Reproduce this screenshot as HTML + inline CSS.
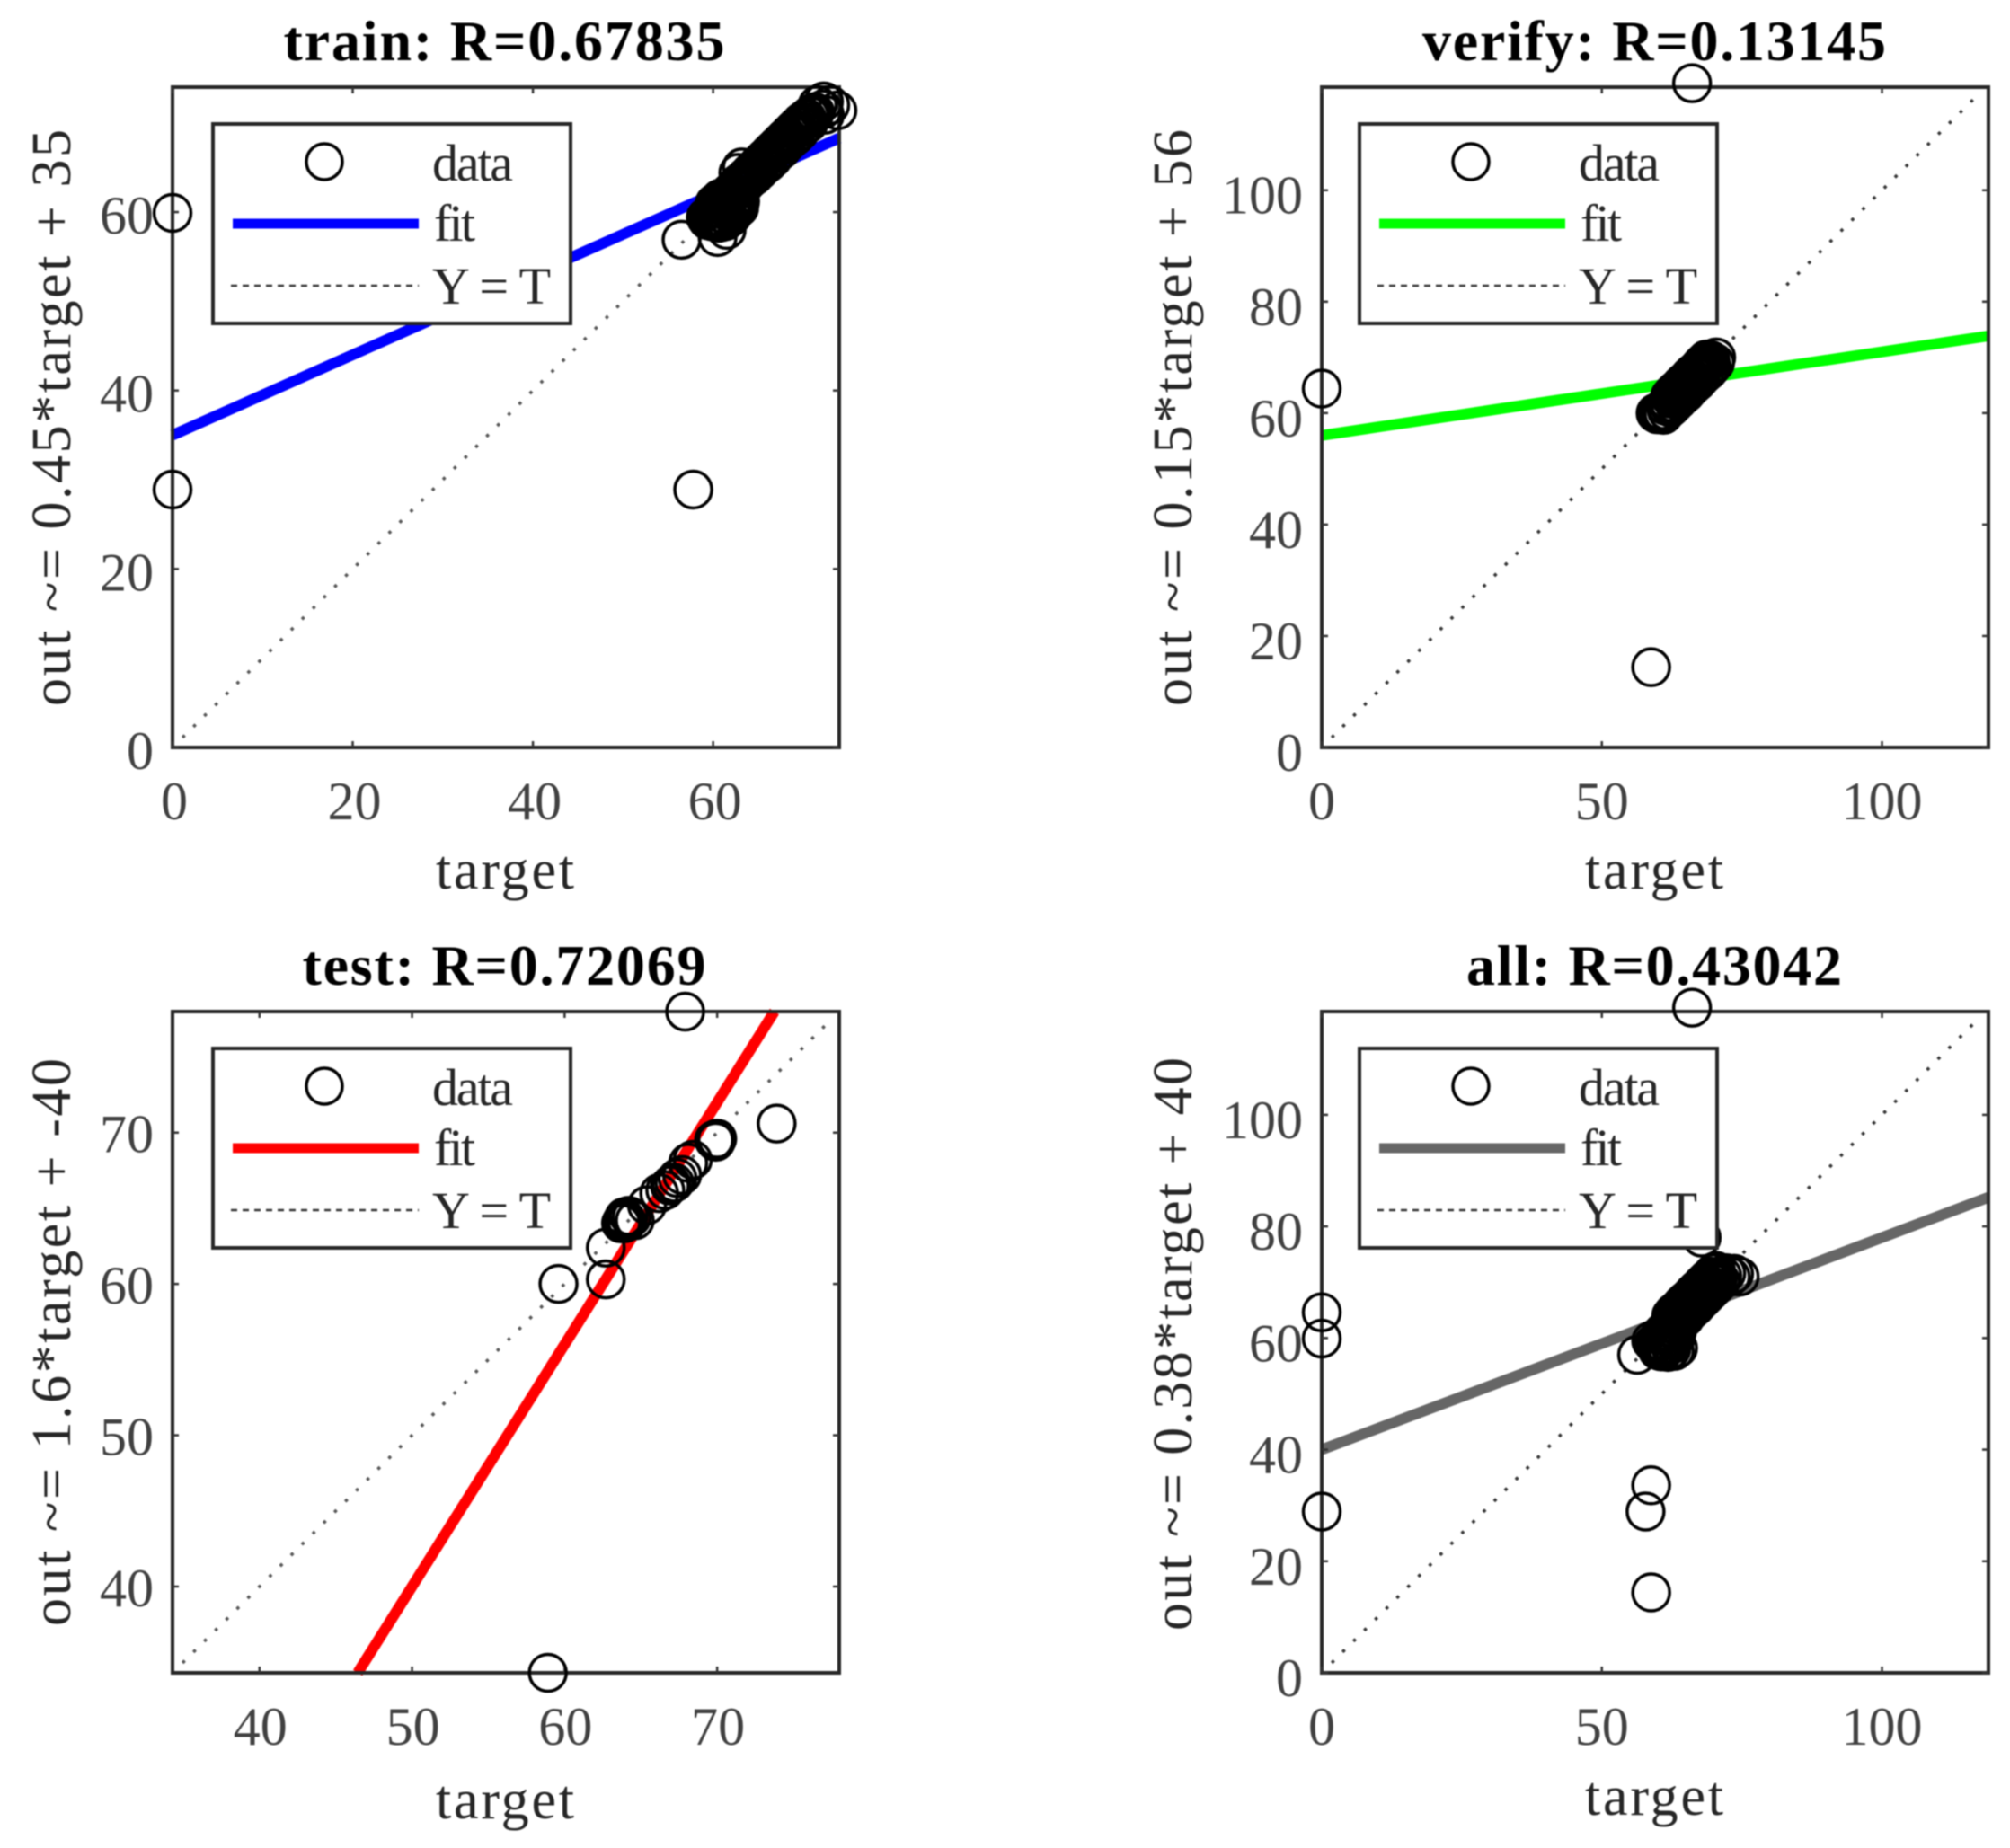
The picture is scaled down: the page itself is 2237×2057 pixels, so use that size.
<!DOCTYPE html>
<html lang="en">
<head>
<meta charset="utf-8">
<title>Regression plots</title>
<style>
html,body{margin:0;padding:0;background:#fff;}
svg{display:block;filter:blur(0.9px);}
text{font-family:"Liberation Serif",serif;fill:#404040;}
.title{font-size:64px;font-weight:bold;fill:#000;text-anchor:middle;}
.axis-label{font-size:62px;fill:#262626;text-anchor:middle;}
.leg{font-size:58px;fill:#262626;}
.tick{font-size:60px;}
.box{fill:none;stroke:#262626;stroke-width:4;}
.legbox{fill:#fff;stroke:#262626;stroke-width:4;}
</style>
</head>
<body>
<svg xmlns="http://www.w3.org/2000/svg" width="2237" height="2057" viewBox="0 0 2237 2057">
<rect width="2237" height="2057" fill="#fff"/>

<g id="panel-train"></g>
<g id="panel-verify"></g>
<g id="panel-test"></g>
<g id="panel-all"></g>

<text class="title" x="561" y="67" textLength="491">train: R=0.67835</text>
<text class="title" x="1841" y="67" textLength="516">verify: R=0.13145</text>
<text class="title" x="561" y="1096" textLength="449">test: R=0.72069</text>
<text class="title" x="1841" y="1096" textLength="418">all: R=0.43042</text>

<text class="axis-label" x="562" y="989" textLength="154">target</text>
<text class="axis-label" x="1841" y="989" textLength="154">target</text>
<text class="axis-label" x="562" y="2024" textLength="154">target</text>
<text class="axis-label" x="1841" y="2020" textLength="154">target</text>

<text class="axis-label" transform="translate(78,465) rotate(-90)" textLength="642">out ~= 0.45*target + 35</text>
<text class="axis-label" transform="translate(1326,465) rotate(-90)" textLength="642">out ~= 0.15*target + 56</text>
<text class="axis-label" transform="translate(78,1494) rotate(-90)" textLength="632">out ~= 1.6*target + -40</text>
<text class="axis-label" transform="translate(1326,1496) rotate(-90)" textLength="638">out ~= 0.38*target + 40</text>

<g>
  <rect class="legbox" x="237" y="138" width="398" height="222"/>
  <circle cx="361" cy="180" r="20" fill="none" stroke="#000" stroke-width="3.5"/>
  <line x1="259" y1="249" x2="466" y2="249" stroke="#0000ff" stroke-width="11"/>
  <line x1="257" y1="318" x2="466" y2="318" stroke="#333" stroke-width="2.5" stroke-dasharray="7 6"/>
  <text class="leg" x="481" y="201" textLength="90">data</text>
  <text class="leg" x="483" y="268" textLength="46">fit</text>
  <text class="leg" x="481" y="338" textLength="132">Y = T</text>
</g>
<g transform="translate(1276,0)">
  <rect class="legbox" x="237" y="138" width="398" height="222"/>
  <circle cx="361" cy="180" r="20" fill="none" stroke="#000" stroke-width="3.5"/>
  <line x1="259" y1="249" x2="466" y2="249" stroke="#00ff00" stroke-width="11"/>
  <line x1="257" y1="318" x2="466" y2="318" stroke="#333" stroke-width="2.5" stroke-dasharray="7 6"/>
  <text class="leg" x="481" y="201" textLength="90">data</text>
  <text class="leg" x="483" y="268" textLength="46">fit</text>
  <text class="leg" x="481" y="338" textLength="132">Y = T</text>
</g>
<g transform="translate(0,1029)">
  <rect class="legbox" x="237" y="138" width="398" height="222"/>
  <circle cx="361" cy="180" r="20" fill="none" stroke="#000" stroke-width="3.5"/>
  <line x1="259" y1="249" x2="466" y2="249" stroke="#ff0000" stroke-width="11"/>
  <line x1="257" y1="318" x2="466" y2="318" stroke="#333" stroke-width="2.5" stroke-dasharray="7 6"/>
  <text class="leg" x="481" y="201" textLength="90">data</text>
  <text class="leg" x="483" y="268" textLength="46">fit</text>
  <text class="leg" x="481" y="338" textLength="132">Y = T</text>
</g>
<g transform="translate(1276,1029)">
  <rect class="legbox" x="237" y="138" width="398" height="222"/>
  <circle cx="361" cy="180" r="20" fill="none" stroke="#000" stroke-width="3.5"/>
  <line x1="259" y1="249" x2="466" y2="249" stroke="#666666" stroke-width="11"/>
  <line x1="257" y1="318" x2="466" y2="318" stroke="#333" stroke-width="2.5" stroke-dasharray="7 6"/>
  <text class="leg" x="481" y="201" textLength="90">data</text>
  <text class="leg" x="483" y="268" textLength="46">fit</text>
  <text class="leg" x="481" y="338" textLength="132">Y = T</text>
</g>
</svg>

<script>
// ---------- chart values ----------
const trainTargets = [0,0,57.8,56.5,60.5,61.5,62.8,63.2,
 60.1,60.3,60.5,60.8,61.0,61.2,61.4,61.6,61.9,62.1,62.3,62.5,62.7,63.0,63.2,63.4,63.6,63.8,64.1,64.3,64.5,64.7,64.9,65.2,65.4,65.6,65.8,66.0,66.3,66.5,66.7,66.9,67.1,67.4,67.6,67.8,68.0,68.2,68.5,68.7,68.9,69.1,69.3,69.6,69.8,70.0,70.2,70.4,70.7,70.9,71.1,71.3,
 59.2,59.4,59.6,59.8,60.0,60.2,60.4,60.6,60.8,61.0,61.2,61.4,61.6,61.8,62.0,62.2,62.4,62.6,
 62.9,63.0,62.9,63.0,62.8,60.2,60.8,61.2,61.5,62.0,62.2,61.0,
 63.6,64.1,64.6,65.1,65.6,66.1,66.6,67.1,67.6,68.1,68.6,69.1,69.6,70.1,70.6,
 72.2,71.6,72.3,73.8,73.0,72.4];
const trainOutputs = [59.9,28.9,28.9,56.9,57.2,58.0,64.4,65.0,
 60.4,60.5,60.9,61.0,61.3,61.4,61.7,61.8,62.2,62.3,62.6,62.7,63.0,63.2,63.5,63.6,63.9,64.0,64.4,64.5,64.8,64.9,65.2,65.4,65.7,65.8,66.1,66.2,66.6,66.7,67.0,67.1,67.4,67.6,67.9,68.0,68.3,68.4,68.8,68.9,69.2,69.3,69.6,69.8,70.1,70.1,70.4,70.5,70.8,70.9,71.1,71.2,
 59.4,59.1,59.3,59.0,59.2,58.9,59.1,58.8,59.0,58.9,59.2,59.0,59.4,59.3,59.8,59.7,60.2,60.3,
 60.5,61.2,61.9,62.6,63.2,61.0,61.5,60.2,60.8,60.2,61.3,59.8,
 63.2,63.7,64.1,64.6,65.1,65.5,66.0,66.6,67.0,67.6,68.1,68.5,69.0,69.6,70.0,
 71.5,72.0,72.4,71.4,72.0,70.9];

const verifyTargets = [0,58.8,66.1,
 59.6,59.9,60.2,60.4,60.7,61.0,60.5,61.4,61.7,62.0,62.4,62.7,63.0,63.4,63.7,64.0,64.4,64.7,65.0,65.4,65.7,66.0,66.4,66.7,67.0,67.4,67.7,68.0,68.4,68.7,69.0,69.4,70.4,
 62.2,62.7,63.2,63.7,64.2,64.7,65.2,65.7,66.2,66.7,67.2,67.7,68.2,68.7,
 61.0,61.6,62.3,63.0,63.6,64.3,65.0,65.6,66.3,67.0,67.6,68.3,69.0,69.6,70.2];
const verifyOutputs = [64.4,14.4,119.2,
 60.0,59.8,60.1,59.9,60.2,60.0,60.5,61.3,61.8,62.0,62.6,62.8,63.3,63.6,64.0,64.3,64.7,64.9,65.4,65.6,66.1,66.3,66.7,66.9,67.4,67.6,68.0,68.2,68.6,68.9,69.2,69.5,70.0,
 63.0,63.6,64.1,64.5,65.1,65.6,66.0,66.6,67.1,67.5,68.0,68.6,69.1,69.6,
 59.7,60.4,61.0,61.7,62.3,63.0,63.6,64.3,65.0,65.6,66.3,67.0,67.6,68.3,69.0];

const testTargets = [58.9,67.9,73.9,59.6,62.7,62.7,63.7,63.8,63.9,64.0,64.2,64.4,64.6,64.1,63.9,65.4,66.2,66.6,66.9,67.2,67.4,67.7,67.0,68.1,68.4,69.9,70.0,69.8];
const testOutputs = [34.3,78.0,70.6,60.0,60.3,62.4,64.0,64.2,64.4,64.3,64.5,64.4,64.2,64.1,64.0,65.2,66.0,66.2,66.5,66.7,67.0,67.2,66.6,68.0,68.2,69.4,69.6,69.5];

const allTargets = [0,0,0,66.1,58.8,58.8,57.8,56.3,67.8,
 60.4,60.7,61.0,61.3,61.7,62.0,62.3,62.7,63.0,63.3,63.7,64.0,64.3,64.7,65.0,65.3,65.7,66.0,66.3,66.7,67.0,67.3,67.7,68.0,68.3,68.7,69.0,69.3,69.7,70.0,70.3,70.7,
 58.8,59.2,59.6,60.0,60.4,60.8,61.2,61.6,62.0,62.4,62.8,63.2,
 62.4,62.9,63.4,63.9,64.4,64.9,65.4,65.9,66.4,66.9,67.4,67.9,68.4,68.9,69.4,69.9,70.4,
 62.2,62.8,63.5,64.0,64.8,65.3,66.0,66.7,67.3,68.0,68.6,69.3,70.0,70.6,71.2,
 60.0,60.6,61.2,61.8,62.4,63.0,63.6,60.5,61.5,62.5,63.4,
 71.5,72.2,73.0,73.6,74.6];
const allOutputs = [64.6,59.9,28.9,119.2,14.4,33.6,28.9,57.0,78.0,
 60.5,60.6,61.1,61.3,61.8,62.0,62.5,62.7,63.2,63.4,63.9,64.1,64.5,64.8,65.2,65.4,65.9,66.1,66.5,66.8,67.2,67.4,67.9,68.1,68.5,68.8,69.2,69.4,69.9,70.1,70.5,70.8,
 59.5,59.0,58.8,58.4,58.7,58.2,58.6,58.3,58.9,58.8,59.6,60.1,
 64.0,64.6,65.0,65.5,66.1,66.6,67.0,67.5,68.1,68.6,69.0,69.6,70.1,70.6,71.0,71.6,72.0,
 61.0,61.7,62.3,63.0,63.6,64.3,65.0,65.6,66.3,67.0,67.6,68.3,69.0,69.6,70.2,
 57.8,57.6,57.9,57.5,58.0,57.7,58.2,60.4,61.0,60.2,61.2,
 71.2,71.6,71.0,71.5,71.0];

const trainFit = [0.45, 35];
const verifyFit = [0.15, 56];
const testFit = [1.6, -40];
const allFit = [0.38, 40];

const trainXTicks = [0,20,40,60];
const trainYTicks = [0,20,40,60];
const verifyXTicks = [0,50,100];
const verifyYTicks = [0,20,40,60,80,100];
const testXTicks = [40,50,60,70];
const testYTicks = [40,50,60,70];
const allXTicks = [0,50,100];
const allYTicks = [0,20,40,60,80,100];

// ---------- layout ----------
const SVGNS = 'http://www.w3.org/2000/svg';
function mk(parent, tag, attrs) {
  const el = document.createElementNS(SVGNS, tag);
  for (const k in attrs) el.setAttribute(k, attrs[k]);
  parent.appendChild(el);
  return el;
}

function drawPanel(cfg) {
  const g = document.getElementById(cfg.id);
  const sx = v => cfg.left + (v - cfg.xMin) / (cfg.xMax - cfg.xMin) * (cfg.right - cfg.left);
  const sy = v => cfg.bottom - (v - cfg.yMin) / (cfg.yMax - cfg.yMin) * (cfg.bottom - cfg.top);

  // identity line
  const lo = Math.max(cfg.xMin, cfg.yMin) + (cfg.xMax - cfg.xMin) * 0.015;
  const hi = Math.min(cfg.xMax, cfg.yMax) - (cfg.xMax - cfg.xMin) * 0.01;
  const diag = mk(g, 'line', {x1: sx(lo), y1: sy(lo), x2: sx(hi), y2: sy(hi), stroke: cfg.diagColor, 'stroke-width': 3.5, 'stroke-dasharray': '3.5 13.5'});
  
  

  // fit line clipped to the box
  const fitAt = x => cfg.fit[0] * x + cfg.fit[1];
  let x0 = cfg.xMin, x1 = cfg.xMax;
  if (fitAt(x0) < cfg.yMin) x0 = (cfg.yMin - cfg.fit[1]) / cfg.fit[0];
  if (fitAt(x1) > cfg.yMax) x1 = (cfg.yMax - cfg.fit[1]) / cfg.fit[0];
  const fit = mk(g, 'line', {x1: sx(x0), y1: sy(fitAt(x0)), x2: sx(x1), y2: sy(fitAt(x1)), stroke: cfg.fitColor, 'stroke-width': 12});
  
  

  // frame and ticks
  const box = mk(g, 'rect', {class: 'box', x: cfg.left, y: cfg.top, width: cfg.right - cfg.left, height: cfg.bottom - cfg.top});
  
  

  cfg.xTicks.forEach(v => {
    const x = sx(v);
    const t1 = mk(g, 'line', {x1: x, y1: cfg.bottom, x2: x, y2: cfg.bottom - 7, stroke: '#333', 'stroke-width': 2.5});
    
    
    const t2 = mk(g, 'line', {x1: x, y1: cfg.top, x2: x, y2: cfg.top + 7, stroke: '#333', 'stroke-width': 2.5});
    
    
    const lab = mk(g, 'text', {class: 'tick', x: x + cfg.labelDx, y: cfg.bottom + 80, 'text-anchor': 'middle'});
    lab.textContent = String(v);
    
    
  });
  cfg.yTicks.forEach(v => {
    const y = sy(v);
    const t1 = mk(g, 'line', {x1: cfg.left, y1: y, x2: cfg.left + 7, y2: y, stroke: '#333', 'stroke-width': 2.5});
    
    
    const t2 = mk(g, 'line', {x1: cfg.right, y1: y, x2: cfg.right - 7, y2: y, stroke: '#333', 'stroke-width': 2.5});
    
    
    const lab = mk(g, 'text', {class: 'tick', x: cfg.left - 21, y: y + cfg.labelDy, 'text-anchor': 'end'});
    lab.textContent = String(v);
    
    
  });

  // data markers
  cfg.targets.forEach((t, i) => {
    const c = mk(g, 'circle', {cx: sx(t), cy: sy(cfg.outputs[i]), r: 20.5, fill: 'none', stroke: '#000', 'stroke-width': 3.5});
    
    
  });
}

drawPanel({id:'panel-train', left:192, right:934, top:97, bottom:832, xMin:0, xMax:74, yMin:0, yMax:74, labelDx:2, labelDy:24,
  targets:trainTargets, outputs:trainOutputs, fit:trainFit, xTicks:trainXTicks, yTicks:trainYTicks, fitColor:'#0000ff', diagColor:'#555'});
drawPanel({id:'panel-verify', left:1471, right:2213, top:97, bottom:832, xMin:0, xMax:119, yMin:0, yMax:118.5, labelDx:0, labelDy:26,
  targets:verifyTargets, outputs:verifyOutputs, fit:verifyFit, xTicks:verifyXTicks, yTicks:verifyYTicks, fitColor:'#00ff00', diagColor:'#333'});
drawPanel({id:'panel-test', left:192, right:934, top:1126, bottom:1862, xMin:34.3, xMax:78, yMin:34.3, yMax:78, labelDx:1, labelDy:22,
  targets:testTargets, outputs:testOutputs, fit:testFit, xTicks:testXTicks, yTicks:testYTicks, fitColor:'#ff0000', diagColor:'#555'});
drawPanel({id:'panel-all', left:1471, right:2213, top:1126, bottom:1862, xMin:0, xMax:119, yMin:0, yMax:118.5, labelDx:0, labelDy:26,
  targets:allTargets, outputs:allOutputs, fit:allFit, xTicks:allXTicks, yTicks:allYTicks, fitColor:'#666666', diagColor:'#333'});
</script>
</body>
</html>
